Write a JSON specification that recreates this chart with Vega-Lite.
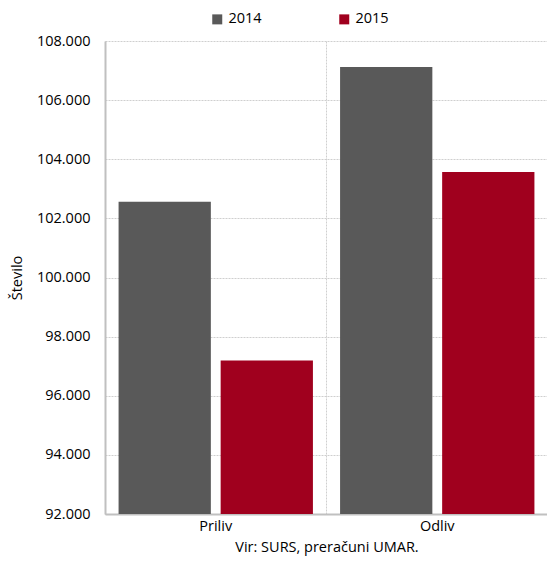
{
  "$schema": "https://vega.github.io/schema/vega-lite/v6.json",
  "autosize": "none",
  "width": 443,
  "height": 473,
  "padding": {"left": 105, "top": 41, "right": 0, "bottom": 50},
  "background": "white",
  "config": {
    "font": "Open Sans",
    "view": {"stroke": null},
    "locale": {"number": {"decimal": ",", "thousands": ".", "grouping": [3], "currency": ["", " €"]}}
  },
  "data": {
    "values": [
      {"kat": "Priliv", "leto": "2014", "vrednost": 102560},
      {"kat": "Priliv", "leto": "2015", "vrednost": 97190},
      {"kat": "Odliv", "leto": "2014", "vrednost": 107120},
      {"kat": "Odliv", "leto": "2015", "vrednost": 103570}
    ]
  },
  "mark": {"type": "bar", "clip": true},
  "encoding": {
    "x": {
      "field": "kat",
      "type": "nominal",
      "sort": ["Priliv", "Odliv"],
      "scale": {"paddingInner": 0, "paddingOuter": 0},
      "axis": {
        "title": "Vir: SURS, preračuni UMAR.",
        "titleFontWeight": "normal",
        "titleFontSize": 14.5,
        "titleColor": "#000000",
        "titlePadding": 8,
        "labelAngle": 0,
        "labelFontSize": 14.5,
        "labelColor": "#000000",
        "labelPadding": 5,
        "ticks": false,
        "domainColor": "#c0c0c0",
        "domainWidth": 2,
        "grid": true,
        "bandPosition": 0,
        "gridColor": "#cfcfcf",
        "gridDash": [2, 1],
        "gridWidth": 1
      }
    },
    "xOffset": {
      "field": "leto",
      "type": "nominal",
      "scale": {"paddingInner": 0.096, "paddingOuter": 0.133}
    },
    "y": {
      "field": "vrednost",
      "type": "quantitative",
      "scale": {"domain": [92000, 108000], "zero": false, "nice": false},
      "axis": {
        "title": "Število",
        "titleFontWeight": "normal",
        "titleFontSize": 14.5,
        "titleColor": "#000000",
        "titlePadding": 12,
        "values": [92000, 94000, 96000, 98000, 100000, 102000, 104000, 106000, 108000],
        "format": ",d",
        "labelFontSize": 14.5,
        "labelColor": "#000000",
        "labelPadding": 15,
        "ticks": false,
        "domainColor": "#c0c0c0",
        "domainWidth": 2,
        "gridColor": "#cfcfcf",
        "gridDash": [2, 1],
        "gridWidth": 1
      }
    },
    "color": {
      "field": "leto",
      "type": "nominal",
      "scale": {"domain": ["2014", "2015"], "range": ["#595959", "#A0001E"]},
      "legend": {
        "title": null,
        "orient": "none",
        "direction": "horizontal",
        "legendX": 105,
        "legendY": -29,
        "symbolType": "square",
        "symbolSize": 100,
        "symbolStrokeWidth": 0,
        "labelFontSize": 14.5,
        "labelColor": "#000000",
        "labelOffset": 4,
        "columnPadding": 75
      }
    }
  }
}
